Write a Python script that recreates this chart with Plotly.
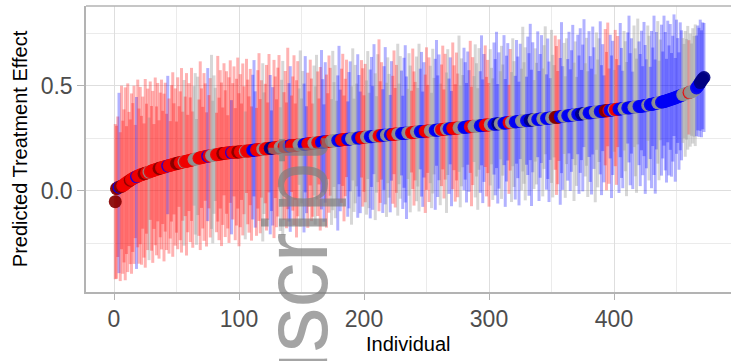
import plotly.graph_objects as go

# Predicted treatment effect per individual (sorted)
estimate = [
    -0.052, 0.010, 0.014, 0.017, 0.019, 0.021, 0.024, 0.028, 0.033, 0.038,
    0.042, 0.046, 0.050, 0.054, 0.058, 0.061, 0.064, 0.067, 0.070, 0.072,
    0.075, 0.077, 0.079, 0.081, 0.083, 0.085, 0.087, 0.089, 0.091, 0.094,
    0.096, 0.098, 0.100, 0.102, 0.104, 0.106, 0.108, 0.110, 0.111, 0.113,
    0.115, 0.117, 0.118, 0.120, 0.122, 0.123, 0.125, 0.127, 0.128, 0.130,
    0.131, 0.133, 0.134, 0.135, 0.137, 0.138, 0.139, 0.141, 0.142, 0.143,
    0.145, 0.146, 0.148, 0.149, 0.151, 0.152, 0.154, 0.155, 0.157, 0.158,
    0.160, 0.161, 0.162, 0.164, 0.165, 0.166, 0.167, 0.168, 0.169, 0.170,
    0.171, 0.172, 0.173, 0.174, 0.175, 0.176, 0.177, 0.178, 0.179, 0.180,
    0.180, 0.181, 0.182, 0.182, 0.183, 0.183, 0.184, 0.184, 0.185, 0.185,
    0.186, 0.186, 0.187, 0.188, 0.188, 0.189, 0.190, 0.190, 0.191, 0.192,
    0.193, 0.193, 0.194, 0.195, 0.195, 0.196, 0.197, 0.197, 0.198, 0.199,
    0.200, 0.200, 0.201, 0.202, 0.202, 0.203, 0.204, 0.204, 0.205, 0.206,
    0.207, 0.207, 0.208, 0.209, 0.209, 0.210, 0.211, 0.211, 0.212, 0.213,
    0.214, 0.214, 0.215, 0.216, 0.216, 0.217, 0.218, 0.218, 0.219, 0.220,
    0.221, 0.221, 0.222, 0.223, 0.223, 0.224, 0.225, 0.225, 0.226, 0.227,
    0.228, 0.228, 0.229, 0.230, 0.230, 0.231, 0.232, 0.232, 0.233, 0.234,
    0.235, 0.235, 0.236, 0.237, 0.237, 0.238, 0.239, 0.239, 0.240, 0.241,
    0.242, 0.242, 0.243, 0.244, 0.244, 0.245, 0.246, 0.246, 0.247, 0.248,
    0.249, 0.249, 0.250, 0.251, 0.251, 0.252, 0.253, 0.253, 0.254, 0.255,
    0.255, 0.256, 0.256, 0.257, 0.258, 0.258, 0.259, 0.259, 0.260, 0.261,
    0.261, 0.262, 0.262, 0.263, 0.264, 0.264, 0.265, 0.265, 0.266, 0.267,
    0.267, 0.268, 0.268, 0.269, 0.270, 0.270, 0.271, 0.271, 0.272, 0.273,
    0.273, 0.274, 0.274, 0.275, 0.276, 0.276, 0.277, 0.277, 0.278, 0.279,
    0.279, 0.280, 0.280, 0.281, 0.282, 0.282, 0.283, 0.283, 0.284, 0.284,
    0.285, 0.286, 0.286, 0.287, 0.287, 0.288, 0.289, 0.289, 0.290, 0.290,
    0.291, 0.292, 0.292, 0.293, 0.293, 0.294, 0.295, 0.295, 0.296, 0.296,
    0.297, 0.298, 0.298, 0.299, 0.299, 0.300, 0.301, 0.301, 0.302, 0.302,
    0.303, 0.304, 0.304, 0.305, 0.305, 0.306, 0.307, 0.307, 0.308, 0.308,
    0.309, 0.310, 0.310, 0.311, 0.311, 0.312, 0.313, 0.313, 0.314, 0.314,
    0.315, 0.316, 0.316, 0.317, 0.318, 0.318, 0.319, 0.320, 0.320, 0.321,
    0.322, 0.322, 0.323, 0.324, 0.324, 0.325, 0.326, 0.326, 0.327, 0.328,
    0.328, 0.329, 0.330, 0.330, 0.331, 0.332, 0.332, 0.333, 0.334, 0.334,
    0.335, 0.336, 0.336, 0.337, 0.338, 0.338, 0.339, 0.340, 0.340, 0.341,
    0.342, 0.342, 0.343, 0.344, 0.344, 0.345, 0.346, 0.346, 0.347, 0.347,
    0.348, 0.349, 0.350, 0.350, 0.351, 0.352, 0.353, 0.354, 0.354, 0.355,
    0.356, 0.357, 0.358, 0.358, 0.359, 0.360, 0.361, 0.361, 0.362, 0.363,
    0.364, 0.365, 0.365, 0.366, 0.367, 0.368, 0.368, 0.369, 0.370, 0.371,
    0.372, 0.372, 0.373, 0.374, 0.375, 0.375, 0.376, 0.377, 0.378, 0.379,
    0.379, 0.380, 0.381, 0.382, 0.382, 0.383, 0.384, 0.385, 0.385, 0.386,
    0.387, 0.388, 0.388, 0.389, 0.390, 0.391, 0.392, 0.392, 0.393, 0.394,
    0.395, 0.395, 0.396, 0.397, 0.398, 0.398, 0.399, 0.400, 0.401, 0.402,
    0.402, 0.403, 0.404, 0.405, 0.405, 0.407, 0.408, 0.409, 0.411, 0.412,
    0.413, 0.415, 0.416, 0.417, 0.419, 0.420, 0.421, 0.422, 0.424, 0.425,
    0.427, 0.429, 0.431, 0.433, 0.435, 0.437, 0.439, 0.441, 0.443, 0.446,
    0.448, 0.450, 0.453, 0.455, 0.458, 0.460, 0.462, 0.464, 0.466, 0.468,
    0.470, 0.472, 0.475, 0.478, 0.483, 0.490, 0.498, 0.507, 0.516, 0.525,
    0.533, 0.540,
]

# Upper error (upper bound minus estimate)
err_plus = [
    0.37, 0.30, 0.34, 0.45, 0.26, 0.48, 0.31, 0.36, 0.46, 0.27, 0.47, 0.33, 0.29, 0.41, 0.36, 0.44, 0.25, 0.38, 0.46, 0.32,
    0.42, 0.28, 0.37, 0.24, 0.45, 0.33, 0.40, 0.26, 0.43, 0.31, 0.38, 0.22, 0.44, 0.30, 0.41, 0.23, 0.36, 0.42, 0.27, 0.35,
    0.40, 0.25, 0.43, 0.32, 0.21, 0.38, 0.44, 0.29, 0.36, 0.20, 0.41, 0.27, 0.34, 0.45, 0.24, 0.39, 0.31, 0.42, 0.22, 0.37,
    0.30, 0.44, 0.23, 0.35, 0.41, 0.19, 0.39, 0.28, 0.46, 0.33, 0.24, 0.40, 0.35, 0.21, 0.42, 0.29, 0.37, 0.48, 0.26, 0.38,
    0.32, 0.20, 0.47, 0.27, 0.40, 0.34, 0.22, 0.43, 0.30, 0.39, 0.18, 0.36, 0.44, 0.25, 0.33, 0.41, 0.21, 0.35, 0.45, 0.28,
    0.37, 0.23, 0.42, 0.31, 0.19, 0.44, 0.34, 0.26, 0.39, 0.21, 0.36, 0.43, 0.28, 0.20, 0.38, 0.46, 0.24, 0.33, 0.41, 0.27,
    0.31, 0.40, 0.22, 0.45, 0.35, 0.18, 0.29, 0.42, 0.34, 0.23, 0.38, 0.44, 0.19, 0.32, 0.41, 0.26, 0.36, 0.21, 0.47, 0.30,
    0.38, 0.24, 0.33, 0.43, 0.20, 0.31, 0.40, 0.27, 0.45, 0.22, 0.35, 0.29, 0.42, 0.18, 0.34, 0.25, 0.40, 0.31, 0.19, 0.37,
    0.27, 0.42, 0.34, 0.21, 0.36, 0.44, 0.30, 0.18, 0.38, 0.32, 0.23, 0.41, 0.35, 0.20, 0.43, 0.28, 0.36, 0.19, 0.31, 0.45,
    0.24, 0.34, 0.41, 0.21, 0.29, 0.38, 0.18, 0.32, 0.37, 0.25, 0.43, 0.19, 0.35, 0.26, 0.40, 0.30, 0.22, 0.37, 0.33, 0.20,
    0.35, 0.27, 0.41, 0.21, 0.32, 0.38, 0.24, 0.44, 0.30, 0.19, 0.39, 0.46, 0.26, 0.35, 0.22, 0.33, 0.42, 0.25, 0.37, 0.29,
    0.19, 0.35, 0.28, 0.40, 0.22, 0.33, 0.43, 0.24, 0.37, 0.30, 0.18, 0.36, 0.42, 0.27, 0.21, 0.38, 0.32, 0.20, 0.40, 0.29,
    0.24, 0.36, 0.21, 0.42, 0.30, 0.38, 0.19, 0.33, 0.27, 0.40, 0.22, 0.35, 0.31, 0.18, 0.39, 0.25, 0.34, 0.43, 0.26, 0.36,
    0.22, 0.31, 0.40, 0.19, 0.36, 0.27, 0.38, 0.24, 0.34, 0.18, 0.41, 0.30, 0.21, 0.36, 0.26, 0.44, 0.20, 0.33, 0.25, 0.38,
    0.31, 0.21, 0.36, 0.27, 0.41, 0.19, 0.33, 0.24, 0.39, 0.30, 0.18, 0.37, 0.26, 0.43, 0.22, 0.34, 0.38, 0.23, 0.31, 0.20,
    0.36, 0.27, 0.22, 0.39, 0.31, 0.44, 0.19, 0.34, 0.25, 0.37, 0.28, 0.42, 0.21, 0.32, 0.38, 0.18, 0.35, 0.24, 0.40, 0.29,
    0.22, 0.39, 0.31, 0.19, 0.37, 0.25, 0.45, 0.28, 0.35, 0.21, 0.40, 0.32, 0.46, 0.24, 0.37, 0.19, 0.34, 0.27, 0.42, 0.23,
    0.31, 0.40, 0.24, 0.35, 0.44, 0.21, 0.38, 0.27, 0.19, 0.42, 0.30, 0.25, 0.39, 0.34, 0.22, 0.37, 0.28, 0.45, 0.24, 0.35,
    0.19, 0.37, 0.27, 0.40, 0.22, 0.31, 0.43, 0.25, 0.35, 0.18, 0.38, 0.28, 0.41, 0.21, 0.33, 0.45, 0.24, 0.36, 0.20, 0.39,
    0.27, 0.21, 0.41, 0.31, 0.18, 0.38, 0.25, 0.35, 0.43, 0.22, 0.32, 0.17, 0.39, 0.28, 0.42, 0.20, 0.36, 0.26, 0.33, 0.19,
    0.38, 0.24, 0.35, 0.21, 0.41, 0.29, 0.18, 0.37, 0.32, 0.22, 0.36, 0.44, 0.26, 0.33, 0.17, 0.39, 0.28, 0.23, 0.42, 0.31,
    0.25, 0.36, 0.19, 0.40, 0.29, 0.22, 0.38, 0.33, 0.18, 0.35, 0.27, 0.42, 0.21, 0.34, 0.39, 0.20, 0.30, 0.37, 0.24, 0.41,
    0.33, 0.20, 0.38, 0.26, 0.36, 0.22, 0.30, 0.40, 0.19, 0.37, 0.28, 0.21, 0.35, 0.31, 0.27, 0.24, 0.30, 0.26, 0.32, 0.25,
    0.28, 0.23, 0.30, 0.26, 0.31, 0.25, 0.29, 0.27, 0.30, 0.24, 0.27, 0.26,
]

# Lower error (estimate minus lower bound)
err_minus = [
    0.37, 0.43, 0.33, 0.41, 0.45, 0.30, 0.42, 0.37, 0.46, 0.34, 0.43, 0.31, 0.40, 0.45, 0.35, 0.41, 0.29, 0.44, 0.34, 0.42,
    0.33, 0.43, 0.26, 0.40, 0.45, 0.29, 0.37, 0.42, 0.23, 0.38, 0.44, 0.28, 0.36, 0.41, 0.25, 0.43, 0.33, 0.39, 0.27, 0.45,
    0.31, 0.40, 0.23, 0.42, 0.35, 0.27, 0.44, 0.24, 0.39, 0.33, 0.41, 0.21, 0.37, 0.43, 0.28, 0.40, 0.26, 0.45, 0.34, 0.24,
    0.39, 0.29, 0.42, 0.22, 0.36, 0.41, 0.27, 0.37, 0.44, 0.24, 0.34, 0.40, 0.21, 0.43, 0.31, 0.25, 0.39, 0.35, 0.42, 0.28,
    0.22, 0.37, 0.32, 0.41, 0.26, 0.44, 0.34, 0.20, 0.40, 0.29, 0.36, 0.43, 0.24, 0.39, 0.32, 0.21, 0.42, 0.35, 0.27, 0.45,
    0.36, 0.23, 0.40, 0.30, 0.42, 0.20, 0.35, 0.39, 0.26, 0.43, 0.33, 0.22, 0.37, 0.41, 0.28, 0.34, 0.40, 0.23, 0.44, 0.31,
    0.26, 0.39, 0.34, 0.21, 0.41, 0.30, 0.37, 0.43, 0.24, 0.38, 0.33, 0.19, 0.40, 0.28, 0.42, 0.35, 0.23, 0.39, 0.30, 0.36,
    0.41, 0.22, 0.31, 0.38, 0.26, 0.44, 0.34, 0.19, 0.39, 0.28, 0.36, 0.42, 0.23, 0.33, 0.40, 0.30, 0.20, 0.37, 0.35, 0.25,
    0.39, 0.27, 0.35, 0.20, 0.42, 0.32, 0.24, 0.38, 0.29, 0.41, 0.18, 0.34, 0.26, 0.40, 0.33, 0.22, 0.37, 0.28, 0.43, 0.21,
    0.34, 0.30, 0.22, 0.39, 0.27, 0.18, 0.37, 0.33, 0.25, 0.41, 0.20, 0.35, 0.31, 0.23, 0.38, 0.28, 0.36, 0.19, 0.33, 0.26,
    0.31, 0.37, 0.20, 0.34, 0.39, 0.24, 0.35, 0.18, 0.40, 0.27, 0.22, 0.36, 0.32, 0.21, 0.37, 0.26, 0.33, 0.39, 0.23, 0.30,
    0.37, 0.22, 0.33, 0.19, 0.35, 0.28, 0.39, 0.24, 0.31, 0.20, 0.36, 0.26, 0.33, 0.41, 0.22, 0.30, 0.38, 0.19, 0.27, 0.35,
    0.23, 0.33, 0.26, 0.38, 0.18, 0.31, 0.36, 0.22, 0.39, 0.28, 0.20, 0.34, 0.25, 0.37, 0.30, 0.21, 0.38, 0.17, 0.32, 0.24,
    0.36, 0.27, 0.19, 0.33, 0.24, 0.40, 0.22, 0.31, 0.17, 0.37, 0.29, 0.20, 0.35, 0.25, 0.33, 0.21, 0.38, 0.28, 0.19, 0.30,
    0.25, 0.36, 0.18, 0.31, 0.22, 0.38, 0.28, 0.17, 0.34, 0.24, 0.40, 0.21, 0.32, 0.19, 0.37, 0.27, 0.20, 0.34, 0.23, 0.39,
    0.29, 0.19, 0.36, 0.24, 0.34, 0.21, 0.38, 0.31, 0.17, 0.36, 0.25, 0.20, 0.40, 0.28, 0.18, 0.34, 0.23, 0.38, 0.21, 0.31,
    0.37, 0.20, 0.27, 0.40, 0.18, 0.33, 0.24, 0.30, 0.38, 0.21, 0.26, 0.36, 0.19, 0.41, 0.25, 0.33, 0.20, 0.31, 0.18, 0.39,
    0.28, 0.21, 0.37, 0.24, 0.17, 0.34, 0.29, 0.40, 0.20, 0.31, 0.38, 0.19, 0.25, 0.37, 0.32, 0.21, 0.42, 0.27, 0.35, 0.18,
    0.39, 0.23, 0.31, 0.18, 0.36, 0.27, 0.21, 0.41, 0.24, 0.34, 0.19, 0.38, 0.28, 0.22, 0.37, 0.16, 0.30, 0.25, 0.40, 0.21,
    0.33, 0.39, 0.20, 0.27, 0.43, 0.18, 0.36, 0.24, 0.30, 0.40, 0.19, 0.34, 0.26, 0.38, 0.17, 0.35, 0.23, 0.42, 0.31, 0.20,
    0.27, 0.36, 0.18, 0.40, 0.23, 0.33, 0.38, 0.20, 0.30, 0.42, 0.17, 0.26, 0.37, 0.22, 0.39, 0.19, 0.33, 0.41, 0.18, 0.28,
    0.38, 0.21, 0.33, 0.24, 0.42, 0.30, 0.17, 0.36, 0.26, 0.40, 0.20, 0.34, 0.43, 0.22, 0.29, 0.37, 0.18, 0.35, 0.27, 0.21,
    0.33, 0.39, 0.20, 0.36, 0.24, 0.37, 0.30, 0.18, 0.40, 0.27, 0.22, 0.35, 0.26, 0.31, 0.23, 0.21, 0.30, 0.22, 0.27, 0.20,
    0.26, 0.21, 0.25, 0.22, 0.27, 0.23, 0.21, 0.25, 0.23, 0.27, 0.24, 0.26,
]

# Group of each individual: r/R = red (R darker point), b/B = blue (B darker point), g = grey
group = (
    "RRRbRRrrrr" "rrRrrrrbrr" "rrrRRrrgrr" "rrrrrRRrrr" "rrbrrrrrrR"
    "RRrrrgrrrr" "rrrggggrrr" "rrrrbrrggg" "grrrrrRRrr" "rrrbrrrrRR"
    "rrrrgrrrrr" "bbbrrrrrgg" "rrrrBBBrrr" "rrgggrrrrb" "brrrrrrggg"
    "gbbbrrrrrg" "ggrrrbbbbr" "rrrgggggbb" "brrrrrbbbg" "ggggbbbrrr"
    "rgggbbbbgg" "grrrbbbggg" "bbrrrrgggb" "bbbbgggrrr" "rgggbbbbrr"
    "rrggggbbbb" "grrrrggbbb" "rrrrrggggb" "bbbbrrrggg" "ggbbbbrrrr"
    "gggbbbBBgg" "gbbbbrrggg" "bbbbbggggb" "bbBBBgggbb" "bbgggbbbbg"
    "ggRRRRbbbg" "ggbbbbbggg" "bbbBBBgggb" "bbbbggggbb" "bbRRRrbbbg"
    "rrrbbbbggg" "bbbbbggggb" "bbbbbbggbb" "bbbbgggbbb" "bbbbbbbbbb"
    "bbbbgggggr" "gggggbbbBB" "BB"
)

individual = list(range(1, len(estimate) + 1))

bar_color = {
    "r": "rgba(255,0,0,0.30)",
    "b": "rgba(0,0,255,0.30)",
    "g": "rgba(150,150,150,0.38)",
}
point_color = {
    "r": "rgba(240,0,0,0.9)",
    "R": "rgba(135,0,0,0.92)",
    "b": "rgba(0,0,245,0.9)",
    "B": "rgba(0,0,130,0.92)",
    "g": "rgba(145,145,145,0.9)",
}

fig = go.Figure()

# error bars, drawn in individual order (one trace per run of the same colour)
n = len(group)
start = 0
for i in range(1, n + 1):
    if i == n or group[i].lower() != group[start].lower():
        key = group[start].lower()
        fig.add_trace(go.Scatter(
            x=individual[start:i],
            y=estimate[start:i],
            mode="markers",
            marker=dict(size=1, color="rgba(0,0,0,0)"),
            error_y=dict(
                type="data", symmetric=False,
                array=err_plus[start:i],
                arrayminus=err_minus[start:i],
                color=bar_color[key], thickness=3, width=0,
            ),
            hoverinfo="skip",
            showlegend=False,
        ))
        start = i

fig.add_trace(go.Scatter(
    x=individual,
    y=estimate,
    mode="markers",
    marker=dict(size=13, color=[point_color[c] for c in group], line=dict(width=0)),
    showlegend=False,
))

font_family = "Liberation Sans, Arial, Helvetica, sans-serif"
grid_major = "#DEDEDE"
grid_minor = "#EBEBEB"
border = "#B3B3B3"

fig.update_layout(
    width=731, height=361,
    margin=dict(l=86, r=0, t=6, b=69, autoexpand=False),
    plot_bgcolor="white", paper_bgcolor="white",
    font=dict(family=font_family),
    showlegend=False,
    annotations=[
        dict(
            text="Manuscript", textangle=-90,
            xref="paper", yref="paper", x=0.326, y=0.548,
            xanchor="center", yanchor="top", showarrow=False,
            font=dict(family=font_family, size=90, color="rgba(125,125,125,0.7)"),
        ),
        dict(
            text="Individual", xref="paper", yref="paper", x=0.5, y=-0.183,
            xanchor="center", yanchor="middle", showarrow=False,
            font=dict(family=font_family, size=20, color="black"),
        ),
        dict(
            text="Predicted Treatment Effect", textangle=-90,
            xref="paper", yref="paper", x=-0.102, y=0.5,
            xanchor="center", yanchor="middle", showarrow=False,
            font=dict(family=font_family, size=20, color="black"),
        ),
    ],
    shapes=[dict(type="line", xref="paper", yref="paper", x0=0, x1=1, y0=1, y1=1,
                 line=dict(color=border, width=1.5))],
)

fig.update_xaxes(
    range=[-22.4, 493.6], automargin=False,
    tickvals=[0, 100, 200, 300, 400],
    ticks="outside", ticklen=6, tickcolor=border, tickwidth=1,
    tickfont=dict(size=23, color="#4D4D4D"),
    showgrid=True, gridcolor=grid_major, gridwidth=1,
    minor=dict(tickvals=[50, 150, 250, 350, 450], showgrid=True, gridcolor=grid_minor, ticks=""),
    showline=True, linecolor=border, linewidth=1.5,
    zeroline=False,
)
fig.update_yaxes(
    range=[-0.483, 0.881], automargin=False,
    tickvals=[0.0, 0.5], tickformat=".1f",
    ticks="outside", ticklen=7, tickcolor=border, tickwidth=1,
    tickfont=dict(size=23, color="#4D4D4D"),
    showgrid=True, gridcolor=grid_major, gridwidth=1,
    minor=dict(tickvals=[-0.25, 0.25, 0.75], showgrid=True, gridcolor=grid_minor, ticks=""),
    showline=True, linecolor=border, linewidth=1.5,
    zeroline=False,
)

fig.write_html("out.html", config={"displayModeBar": False},
               post_script="document.body.style.margin='0';")
